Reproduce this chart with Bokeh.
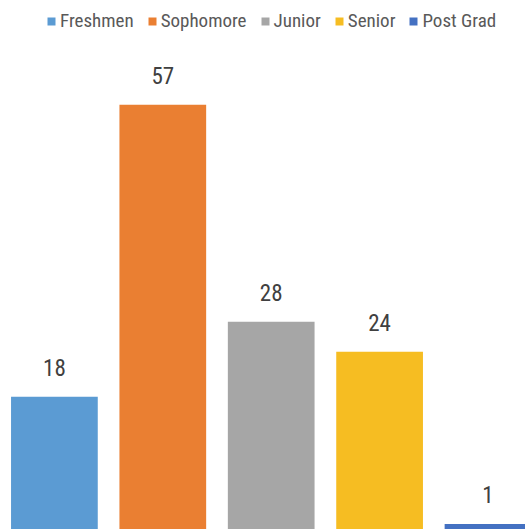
from bokeh.plotting import figure
from bokeh.models import Range1d, ColumnDataSource, LabelSet, Legend, LegendItem
from bokeh.core.properties import value
from bokeh.embed import file_html
from bokeh.resources import INLINE

categories = ["Freshmen", "Sophomore", "Junior", "Senior", "Post Grad"]
counts = [18, 57, 28, 24, 1]
colors = ["#5B9BD3", "#EA7F32", "#A6A6A6", "#F6BD22", "#4471C2"]

FONT = "Roboto Condensed"

W, H = 525, 529
px_per_cat = 108.4
x0_px = 53.9
px_per_unit = 7.487
zero_px = 531.0

p = figure(width=W, height=H, output_backend="svg", toolbar_location=None,
           x_range=Range1d(-x0_px / px_per_cat, (W - x0_px) / px_per_cat),
           y_range=Range1d((zero_px - H) / px_per_unit, zero_px / px_per_unit),
           min_border=0, min_border_left=0, min_border_right=0,
           min_border_top=0, min_border_bottom=0)
p.axis.visible = False
p.xgrid.visible = False
p.ygrid.visible = False
p.outline_line_color = None
p.background_fill_color = "white"
p.border_fill_color = "white"

xs = list(range(len(categories)))
source = ColumnDataSource(dict(x=xs, v=counts, lbl=[str(c) for c in counts]))

items = []
for i, cat in enumerate(categories):
    src = ColumnDataSource(dict(x=[xs[i]], v=[counts[i]]))
    r = p.vbar(x="x", top="v", bottom=0, width=0.8, source=src,
               fill_color=colors[i], line_color=None)
    items.append(LegendItem(label=cat, renderers=[r]))

labels = LabelSet(x="x", y="v", text="lbl", source=source, y_offset=21,
                  text_align="center", text_baseline="alphabetic",
                  text_font=value(FONT), text_font_size="23px", text_color="#404040")
p.add_layout(labels)

legend = Legend(items=items, orientation="horizontal", location=(46, 497),
                glyph_width=10, glyph_height=10, label_standoff=4, spacing=13,
                label_text_font=FONT, label_text_font_size="19px",
                label_text_color="#595959", label_height=22,
                padding=0, margin=0, border_line_color=None,
                background_fill_alpha=0)
p.add_layout(legend)

open("out.html", "w").write(file_html(p, INLINE))
